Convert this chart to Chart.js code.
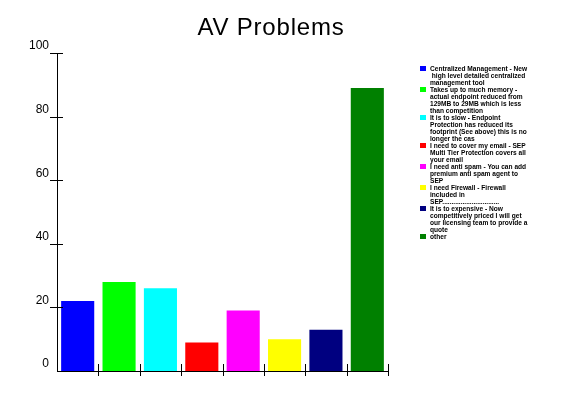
<!Doctype html>
<html>
  <head>
    <meta charset="utf-8"/>
    <style type="text/css">
      body {
        margin: 0px;
        padding: 0px;
        background-color: #ffffff;
      }
      #container {
        position: relative;
        width: 580px;
        height: 400px;
      }
      #title {
        position: absolute;
        left: 121px;
        width: 300px;
        top: 15px;
        text-align: center;
        font: 24px "Liberation Sans", Arial, sans-serif;
        line-height: 24px;
        letter-spacing: 0.8px;
        color: #000;
      }
      #legend {
        position: absolute;
        left: 420px;
        top: 65px;
        width: 160px;
        font: bold 6.6px "Liberation Sans", Arial, sans-serif;
        line-height: 7px;
        color: #000;
      }
      .item {
        position: relative;
        padding-left: 10px;
        white-space: pre;
      }
      .box {
        position: absolute;
        left: 0px;
        top: 1px;
        width: 6px;
        height: 5px;
      }
    </style>
  </head>
  <body>
    <div id="container">
      <canvas id="chart" width="580" height="400"></canvas>
      <div id="title">AV Problems</div>
      <div id="legend"></div>
    </div>
  </body>
  <script src="https://cdn.jsdelivr.net/npm/chart.js@4/dist/chart.umd.min.js"></script>
  <script>
    // legend text, one array per category (lines as in the original)
    var categories = [
      ["Centralized Management - New", " high level detailed centralized", "management tool"],
      ["Takes up to much memory -", "actual endpoint reduced from", "129MB to 29MB which is less", "than competition"],
      ["It is to slow - Endpoint", "Protection has reduced its", "footprint (See above) this is no", "longer the cas"],
      ["I need to cover my email - SEP", "Multi Tier Protection covers all", "your email"],
      ["I need anti spam - You can add", "premium anti spam agent to", "SEP"],
      ["I need Firewall - Firewall", "included in", "SEP..............................."],
      ["It is to expensive - Now", "competitively priced I will get", "our licensing team to provide a", "quote"],
      ["other"]
    ];
    var values = [22, 28, 26, 9, 19, 10, 13, 89];
    var colors = ["#0000ff", "#00ff00", "#00ffff", "#ff0000", "#ff00ff", "#ffff00", "#000080", "#008000"];

    // legend
    var lg = document.getElementById("legend");
    categories.forEach(function(lines, i) {
      var item = document.createElement("div");
      item.className = "item";
      var box = document.createElement("span");
      box.className = "box";
      box.style.backgroundColor = colors[i];
      item.appendChild(box);
      lines.forEach(function(t) {
        var l = document.createElement("div");
        l.textContent = t;
        item.appendChild(l);
      });
      lg.appendChild(item);
    });

    // tick marks that cross the axes
    var crossTicks = {
      id: "crossTicks",
      afterDatasetsDraw: function(chart) {
        var ctx = chart.ctx, x = chart.scales.x, y = chart.scales.y;
        var a = chart.chartArea;
        ctx.save();
        ctx.strokeStyle = "#000";
        ctx.lineWidth = 1;
        ctx.beginPath();
        y.ticks.forEach(function(t) {
          if (t.value === 0) return;
          var py = Math.round(y.getPixelForValue(t.value)) + 0.5;
          ctx.moveTo(a.left - 7, py);
          ctx.lineTo(a.left + 6, py);
        });
        for (var i = 0; i < values.length; i++) {
          var px = Math.round((x.getPixelForValue(i) + x.getPixelForValue(i + 1)) / 2);
          if (i === values.length - 1) px = Math.round(a.right);
          px += 0.5;
          ctx.moveTo(px, a.bottom - 7);
          ctx.lineTo(px, a.bottom + 5);
        }
        ctx.stroke();
        ctx.restore();
      }
    };

    var chart = new Chart(document.getElementById("chart"), {
      type: "bar",
      data: {
        labels: categories.map(function(l) { return l.join(" "); }),
        datasets: [{
          data: values,
          backgroundColor: colors,
          borderWidth: 0,
          barPercentage: 0.8,
          categoryPercentage: 1.0
        }]
      },
      options: {
        responsive: false,
        animation: false,
        layout: {
          padding: { left: 0, top: 53, right: 192, bottom: 29 }
        },
        plugins: {
          legend: { display: false },
          title: { display: false },
          tooltip: { enabled: false }
        },
        scales: {
          x: {
            offset: true,
            grid: { display: false, drawTicks: false },
            border: { display: true, color: "#000", width: 1 },
            ticks: { display: false },
            afterFit: function(s) { s.height = 0; }
          },
          y: {
            min: 0,
            max: 100,
            grid: { display: false, drawTicks: false, tickLength: 0 },
            border: { display: true, color: "#000", width: 1 },
            ticks: {
              stepSize: 20,
              padding: 8,
              labelOffset: -7,
              color: "#000",
              font: { family: "'Liberation Sans', Arial, sans-serif", size: 12 }
            },
            afterFit: function(s) { s.width = 57; }
          }
        }
      },
      plugins: [crossTicks]
    });
  </script>
</html>
